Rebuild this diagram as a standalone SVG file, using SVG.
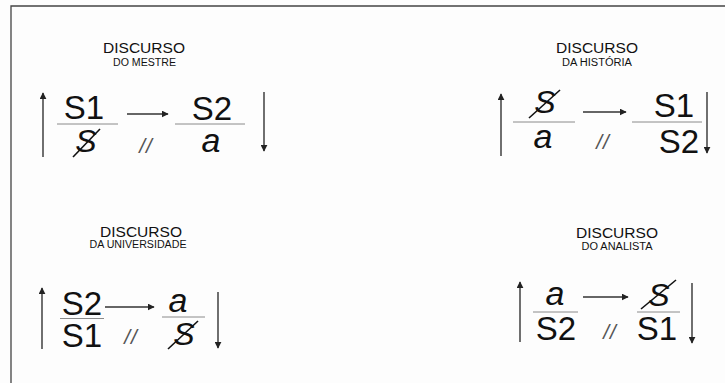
<svg xmlns="http://www.w3.org/2000/svg" width="725" height="383" viewBox="0 0 725 383">
<style>
.t{font-family:"Liberation Sans",Arial,sans-serif;fill:#111;text-anchor:middle}
.h{font-size:14.5px}
.s{font-size:10px}
.big{font-size:33px}
.it{font-size:34px;font-style:italic}
.bs{font-size:32px;font-style:italic}
.sl{font-size:21px;font-style:italic;fill:#555;letter-spacing:1px}
.fr{stroke:#8a8a8a;stroke-width:1}
.ar{stroke:#333;stroke-width:1.4;fill:none}
.bar{stroke:#111;stroke-width:1.6}
</style>
<defs>
<marker id="ah" viewBox="0 0 10 10" refX="9" refY="5" markerWidth="7" markerHeight="7" markerUnits="userSpaceOnUse" orient="auto">
<path d="M0,0 L10,5 L0,10 z" fill="#222"/>
</marker>
</defs>
<rect width="725" height="383" fill="#fdfdfd"/>
<path d="M11,383 V6 H725" fill="none" stroke="#444" stroke-width="1.3"/>

<g id="mestre">
<text class="t h" x="144" y="53" textLength="82" lengthAdjust="spacingAndGlyphs">DISCURSO</text>
<text class="t s" x="144.5" y="66" textLength="63" lengthAdjust="spacingAndGlyphs">DO MESTRE</text>
<text class="t big" x="84" y="119">S1</text>
<line class="fr" x1="57" y1="124" x2="118" y2="124"/>
<text class="t bs" x="86" y="152">S</text>
<line class="bar" x1="73" y1="157" x2="100" y2="129"/>
<text class="t sl" x="146" y="153">//</text>
<text class="t big" x="212" y="120">S2</text>
<line class="fr" x1="175" y1="124" x2="245" y2="124"/>
<text class="t it" x="211" y="152">a</text>
</g>

<g id="historia">
<text class="t h" x="597" y="53" textLength="82" lengthAdjust="spacingAndGlyphs">DISCURSO</text>
<text class="t s" x="597" y="66" textLength="70" lengthAdjust="spacingAndGlyphs">DA HISTÓRIA</text>
<text class="t bs" x="545" y="113">S</text>
<line class="bar" x1="529" y1="118" x2="560" y2="90"/>
<line class="fr" x1="513" y1="122" x2="575" y2="122"/>
<text class="t it" x="543" y="148">a</text>
<text class="t sl" x="603" y="149">//</text>
<text class="t big" x="674" y="117">S1</text>
<line class="fr" x1="632" y1="122" x2="702" y2="122"/>
<text class="t big" x="679" y="153">S2</text>
</g>

<g id="universidade">
<text class="t h" x="141" y="237" textLength="82" lengthAdjust="spacingAndGlyphs">DISCURSO</text>
<text class="t s" x="138" y="248" textLength="97" lengthAdjust="spacingAndGlyphs">DA UNIVERSIDADE</text>
<text class="t big" x="82" y="315">S2</text>
<line class="fr" x1="60" y1="318.5" x2="104" y2="318.5"/>
<text class="t big" x="82" y="347">S1</text>
<text class="t it" x="178" y="312">a</text>
<line class="fr" x1="162" y1="317" x2="205" y2="317"/>
<text class="t bs" x="184" y="345">S</text>
<line class="bar" x1="168" y1="349" x2="198" y2="321"/>
<text class="t sl" x="131" y="344">//</text>
</g>

<g id="analista">
<text class="t h" x="617" y="238" textLength="82" lengthAdjust="spacingAndGlyphs">DISCURSO</text>
<text class="t s" x="617" y="250" textLength="71" lengthAdjust="spacingAndGlyphs">DO ANALISTA</text>
<text class="t it" x="555" y="305">a</text>
<line class="fr" x1="533" y1="312" x2="578" y2="312"/>
<text class="t big" x="556" y="340">S2</text>
<text class="t sl" x="610" y="339">//</text>
<text class="t bs" x="659" y="306">S</text>
<line class="bar" x1="641" y1="309" x2="676" y2="280"/>
<line class="fr" x1="637" y1="312" x2="680" y2="312"/>
<text class="t big" x="657" y="340">S1</text>
</g>

<g id="connectors">
<line class="ar" x1="43" y1="157" x2="43" y2="93" marker-end="url(#ah)"/>
<line class="ar" x1="127" y1="114" x2="168" y2="114" marker-end="url(#ah)"/>
<line class="ar" x1="264" y1="92" x2="264" y2="151" marker-end="url(#ah)"/>
<line class="ar" x1="501" y1="156" x2="501" y2="94" marker-end="url(#ah)"/>
<line class="ar" x1="583" y1="112" x2="626" y2="112" marker-end="url(#ah)"/>
<line class="ar" x1="707" y1="92" x2="707" y2="153" marker-end="url(#ah)"/>
<line class="ar" x1="42" y1="349" x2="42" y2="288" marker-end="url(#ah)"/>
<line class="ar" x1="105" y1="307" x2="154" y2="307" marker-end="url(#ah)"/>
<line class="ar" x1="218" y1="292" x2="218" y2="348" marker-end="url(#ah)"/>
<line class="ar" x1="520" y1="342" x2="520" y2="282" marker-end="url(#ah)"/>
<line class="ar" x1="583" y1="297" x2="628" y2="297" marker-end="url(#ah)"/>
<line class="ar" x1="692" y1="283" x2="692" y2="343" marker-end="url(#ah)"/>
</g>
</svg>
